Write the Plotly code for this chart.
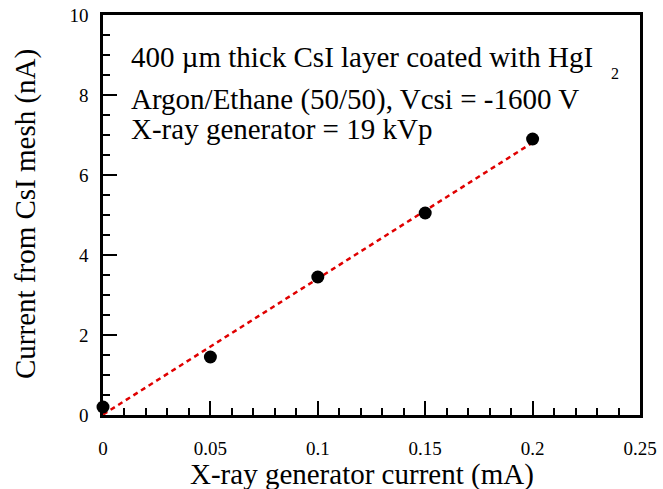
import numpy as np
import plotly.graph_objects as go

# Measured CsI mesh current vs. X-ray tube current
tube_current_mA = [0.0, 0.05, 0.10, 0.15, 0.20]
mesh_current_nA = [0.2, 1.45, 3.45, 5.05, 6.9]

x_tickvals = [0, 0.05, 0.1, 0.15, 0.2, 0.25]
x_ticktext = ["0", "0.05", "0.1", "0.15", "0.2", "0.25"]
y_tickvals = [0, 2, 4, 6, 8, 10]

x_title = "X-ray generator current (mA)"
y_title = "Current from CsI mesh (nA)"
info_lines = [
    "400 \u00b5m thick CsI layer coated with HgI",
    "Argon/Ethane (50/50), Vcsi = -1600 V",
    "X-ray generator = 19 kVp",
]

# Straight-line least-squares fit through the measurements
slope, intercept = np.polyfit(tube_current_mA, mesh_current_nA, 1)
fit_x = np.array([0.0, 0.2])
fit_y = slope * fit_x + intercept

FONT = "Liberation Serif, Times New Roman, serif"
W, H = 663, 489
L, R, T, B = 103, 23, 15, 74
PW, PH = W - L - R, H - T - B


def px(xp):
    return (xp - L) / PW


def py(yp):
    return (H - B - yp) / PH


fig = go.Figure()
fig.add_trace(go.Scatter(
    x=fit_x, y=fit_y, mode="lines",
    line=dict(color="#e00000", width=2.5, dash="5px,4px"),
    showlegend=False, hoverinfo="skip",
))
fig.add_trace(go.Scatter(
    x=tube_current_mA, y=mesh_current_nA, mode="markers",
    marker=dict(color="black", size=13),
    cliponaxis=False, showlegend=False,
))

axis_common = dict(
    showline=True, linecolor="black", linewidth=2.5, mirror=True,
    ticks="inside", ticklen=14, tickwidth=2, tickcolor="black",
    showgrid=False, zeroline=False, automargin=False,
    tickfont=dict(family=FONT, size=19, color="black"),
)

fig.update_xaxes(
    range=[0, 0.25], tickvals=x_tickvals, ticktext=x_ticktext,
    minor=dict(ticks="inside", dtick=0.01, ticklen=7, tickwidth=2, tickcolor="black"),
    ticklabelstandoff=14,
    **axis_common,
)
fig.update_yaxes(
    range=[0, 10], tickvals=y_tickvals,
    minor=dict(ticks="inside", dtick=0.5, ticklen=7, tickwidth=2, tickcolor="black"),
    ticklabelstandoff=8,
    **axis_common,
)

# Axis titles
fig.add_annotation(
    text=x_title, xref="paper", yref="paper", x=px(362), y=py(475),
    xanchor="center", yanchor="middle", showarrow=False,
    font=dict(family=FONT, size=29, color="black"),
)
fig.add_annotation(
    text=y_title, xref="paper", yref="paper", x=px(25), y=py(214),
    xanchor="center", yanchor="middle", showarrow=False, textangle=-90,
    font=dict(family=FONT, size=29, color="black"),
)

# Measurement conditions
line_y = [57, 99.5, 129]
for txt, yp in zip(info_lines, line_y):
    fig.add_annotation(
        text=txt, xref="paper", yref="paper", x=px(129), y=py(yp),
        xanchor="left", yanchor="middle", showarrow=False,
        font=dict(family=FONT, size=29, color="black"),
    )
# subscript of HgI2
fig.add_annotation(
    text="2", xref="paper", yref="paper", x=px(615), y=py(74),
    xanchor="center", yanchor="middle", showarrow=False,
    font=dict(family=FONT, size=16, color="black"),
)

fig.update_layout(
    width=W, height=H,
    margin=dict(l=L, r=R, t=T, b=B),
    paper_bgcolor="white", plot_bgcolor="white",
)

fig.write_html("out.html")
